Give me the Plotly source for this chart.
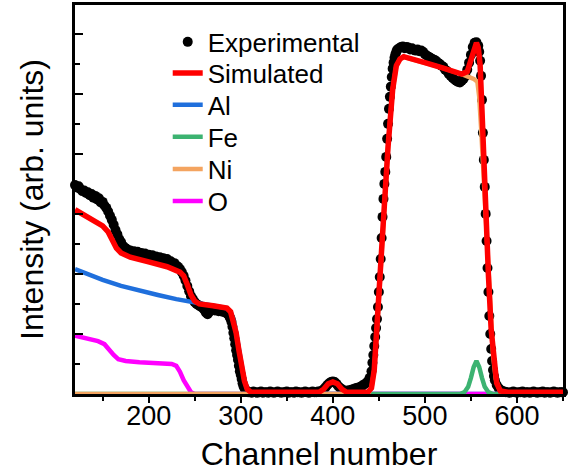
import plotly.graph_objects as go

# ---------------- data ----------------
exp_x = (list(range(120, 289, 2)) + list(range(289, 309, 1)) + list(range(310, 387, 2))
         + list(range(388, 413, 2)) + list(range(414, 443, 2)) + list(range(443, 471, 1))
         + list(range(472, 559, 2)) + list(range(559, 577, 1)) + list(range(578, 651, 2)))

exp_y = [
    # 120-288 step 2
    3.48, 3.44, 3.46, 3.41, 3.38, 3.39, 3.35, 3.36, 3.31, 3.33, 3.27, 3.30, 3.24, 3.26, 3.19,
    3.20, 3.14, 3.10, 3.04, 2.97, 2.90, 2.82, 2.73, 2.66, 2.58, 2.53, 2.47, 2.44, 2.42, 2.36,
    2.39, 2.35, 2.38, 2.34, 2.37, 2.33, 2.35, 2.31, 2.34, 2.30, 2.32, 2.29, 2.31, 2.27, 2.29,
    2.26, 2.28, 2.24, 2.26, 2.22, 2.25, 2.20, 2.21, 2.17, 2.18, 2.14, 2.12, 2.08, 2.03, 1.97,
    1.89, 1.80, 1.71, 1.63, 1.58, 1.53, 1.50, 1.48, 1.46, 1.44, 1.41, 1.36, 1.33, 1.37, 1.40,
    1.42, 1.39, 1.41, 1.38, 1.40, 1.37, 1.38, 1.35, 1.33, 1.28,
    # 289-308 step 1
    1.25, 1.20, 1.12, 1.02, 0.93, 0.83, 0.73, 0.65, 0.57, 0.47, 0.38, 0.32, 0.25, 0.18, 0.13,
    0.10, 0.07, 0.05, 0.04, 0.03,
    # 310-386 step 2
    0.03, 0.02, 0.04, 0.03, 0.02, 0.03, 0.04, 0.02, 0.03, 0.03, 0.02, 0.04, 0.03, 0.02, 0.03,
    0.04, 0.03, 0.02, 0.03, 0.03, 0.04, 0.02, 0.03, 0.03, 0.02, 0.04, 0.03, 0.03, 0.02, 0.03,
    0.04, 0.03, 0.02, 0.03, 0.04, 0.03, 0.03, 0.04, 0.04,
    # 388-412 step 2
    0.05, 0.08, 0.11, 0.15, 0.18, 0.20, 0.21, 0.20, 0.17, 0.13, 0.10, 0.08, 0.06,
    # 414-442 step 2
    0.05, 0.06, 0.06, 0.07, 0.08, 0.09, 0.10, 0.11, 0.12, 0.14, 0.16, 0.18, 0.21, 0.27, 0.38,
    # 443-470 step 1
    0.52, 0.65, 0.80, 0.95, 1.10, 1.25, 1.45, 1.70, 1.95, 2.25, 2.60, 2.95, 3.25, 3.50, 3.70,
    3.95, 4.25, 4.50, 4.75, 4.95, 5.12, 5.28, 5.42, 5.52, 5.60, 5.66, 5.70, 5.74,
    # 472-558 step 2
    5.76, 5.78, 5.79, 5.76, 5.78, 5.77, 5.74, 5.76, 5.73, 5.72, 5.74, 5.71, 5.72, 5.70, 5.66,
    5.64, 5.62, 5.60, 5.58, 5.57, 5.55, 5.52, 5.50, 5.47, 5.45, 5.40, 5.38, 5.33, 5.30, 5.27,
    5.24, 5.22, 5.20, 5.19, 5.22, 5.25, 5.30, 5.40, 5.52, 5.65, 5.78, 5.85, 5.86, 5.80,
    # 559-576 step 1
    5.70, 5.55, 5.30, 4.90, 4.35, 3.90, 3.45, 3.00, 2.55, 2.10, 1.70, 1.30, 1.00, 0.75, 0.55,
    0.40, 0.30, 0.23,
    # 578-650 step 2
    0.15, 0.10, 0.07, 0.05, 0.04, 0.03, 0.03, 0.02, 0.03, 0.04, 0.03, 0.02, 0.03, 0.03, 0.04,
    0.02, 0.03, 0.03, 0.02, 0.03, 0.04, 0.03, 0.02, 0.03, 0.03, 0.04, 0.02, 0.03, 0.03, 0.02,
    0.03, 0.04, 0.03, 0.02, 0.03, 0.03, 0.03,
]

sim_x = [120, 130, 140, 150, 156, 160, 165, 170, 180, 200, 220, 234, 238, 242, 246, 250, 255,
         270, 285, 289, 292, 295, 298, 301, 304, 307, 311, 320, 385, 390, 395, 400, 405, 410,
         415, 438, 442, 445, 448, 451, 455, 460, 465, 469, 473, 477, 485, 500, 520, 540, 546,
         550, 553, 556, 558, 560, 562, 564, 566, 569, 572, 575, 578, 582, 590, 650]
sim_y = [3.07, 2.98, 2.90, 2.80, 2.70, 2.57, 2.43, 2.35, 2.28, 2.20, 2.12, 2.03, 1.97, 1.82,
         1.65, 1.55, 1.50, 1.47, 1.43, 1.37, 1.23, 1.02, 0.73, 0.43, 0.22, 0.08, 0.03, 0.03,
         0.03, 0.08, 0.17, 0.20, 0.17, 0.08, 0.03, 0.03, 0.10, 0.40, 1.07, 1.82, 2.90, 4.12,
         5.07, 5.47, 5.58, 5.62, 5.58, 5.52, 5.43, 5.33, 5.37, 5.57, 5.75, 5.85, 5.77, 5.48,
         4.73, 3.82, 2.98, 1.98, 1.07, 0.48, 0.18, 0.05, 0.03, 0.03]

al_x = [120, 135, 150, 170, 190, 210, 230, 250, 270, 285, 289, 292, 295, 298, 301, 304, 307,
        311, 650]
al_y = [2.08, 1.98, 1.90, 1.80, 1.72, 1.65, 1.58, 1.52, 1.47, 1.43, 1.37, 1.23, 1.02, 0.73,
        0.43, 0.22, 0.08, 0.0, 0.0]

fe_x = [120, 538, 543, 547, 550, 553, 556, 559, 562, 565, 569, 574, 650]
fe_y = [0.0, 0.0, 0.03, 0.12, 0.27, 0.45, 0.55, 0.45, 0.27, 0.12, 0.03, 0.0, 0.0]

ni_x = [120, 438, 442, 445, 448, 451, 455, 460, 465, 469, 473, 477, 485, 500, 520, 540, 548,
        553, 557, 559, 561, 563, 565, 568, 571, 574, 577, 581, 586, 650]
ni_y = [0.0, 0.0, 0.10, 0.40, 1.07, 1.82, 2.90, 4.12, 5.07, 5.47, 5.58, 5.62, 5.58, 5.52,
        5.43, 5.33, 5.28, 5.25, 5.20, 4.95, 4.45, 3.85, 3.25, 2.30, 1.35, 0.65, 0.25, 0.07,
        0.0, 0.0]

o_x = [120, 130, 145, 152, 157, 162, 167, 175, 190, 210, 225, 230, 234, 238, 242, 246, 250, 650]
o_y = [0.97, 0.93, 0.88, 0.83, 0.73, 0.65, 0.58, 0.55, 0.53, 0.52, 0.50, 0.47, 0.37, 0.23,
       0.12, 0.03, 0.0, 0.0]

x_ticks = [200, 300, 400, 500, 600]
legend_names = ["Experimental", "Simulated", "Al", "Fe", "Ni", "O"]

# ---------------- figure ----------------
FONT = "Liberation Sans, Arial, sans-serif"
fig = go.Figure()

fig.add_trace(go.Scatter(x=exp_x, y=exp_y, mode="markers", name=legend_names[0],
                         marker=dict(color="black", size=10), cliponaxis=False,
                         legend="legend"))
fig.add_trace(go.Scatter(x=al_x, y=al_y, mode="lines", name=legend_names[2],
                         line=dict(color="#1f6fdc", width=4.5), legend="legend3"))
fig.add_trace(go.Scatter(x=o_x, y=o_y, mode="lines", name=legend_names[5],
                         line=dict(color="#ff00ff", width=4.5), legend="legend6"))
fig.add_trace(go.Scatter(x=fe_x, y=fe_y, mode="lines", name=legend_names[3],
                         line=dict(color="#3cb371", width=4.5), legend="legend4"))
fig.add_trace(go.Scatter(x=ni_x, y=ni_y, mode="lines", name=legend_names[4],
                         line=dict(color="#f4a460", width=4.5), legend="legend5"))
fig.add_trace(go.Scatter(x=sim_x, y=sim_y, mode="lines", name=legend_names[1],
                         line=dict(color="#ff0000", width=5.5), legend="legend2"))

legend_rows = [0.905, 0.825, 0.743, 0.661, 0.578, 0.496]
legend_style = dict(x=0.19, xanchor="left", yanchor="middle",
                    font=dict(size=26, family=FONT), bgcolor="rgba(0,0,0,0)")
legend_layout = {}
for i, yy in enumerate(legend_rows):
    key = "legend" if i == 0 else f"legend{i + 1}"
    legend_layout[key] = dict(y=yy, **legend_style)

fig.update_layout(
    width=581, height=472,
    margin=dict(l=75, r=18, t=5, b=78),
    paper_bgcolor="white", plot_bgcolor="white",
    font=dict(family=FONT, color="black", size=27),
    showlegend=True,
    xaxis=dict(range=[120, 650], tickvals=x_ticks, ticks="outside", ticklen=6, tickwidth=2,
               tickcolor="black", showline=True, linewidth=2.5, linecolor="black",
               mirror=True, showgrid=False, zeroline=False, automargin=False,
               tickfont=dict(size=27, family=FONT), ticklabelstandoff=-10,
               minor=dict(dtick=50, ticks="outside", ticklen=4, tickwidth=2, tickcolor="black",
                          showgrid=False),
               title=dict(text="Channel number", font=dict(size=32, family=FONT), standoff=16)),
    yaxis=dict(range=[0, 6.48], dtick=1, tick0=0, ticks="inside", ticklen=8, tickwidth=2,
               tickcolor="black", showticklabels=False, showline=True, linewidth=2.5,
               linecolor="black", mirror=True, showgrid=False, zeroline=False,
               automargin=False,
               minor=dict(dtick=0.5, ticks="inside", ticklen=5, tickwidth=2, tickcolor="black",
                          showgrid=False),
               title=dict(text="Intensity (arb. units)", font=dict(size=32, family=FONT),
                          standoff=20)),
    **legend_layout,
)

fig.write_html("out.html", config={"displayModeBar": False},
               post_script="document.body.style.margin='0';")
